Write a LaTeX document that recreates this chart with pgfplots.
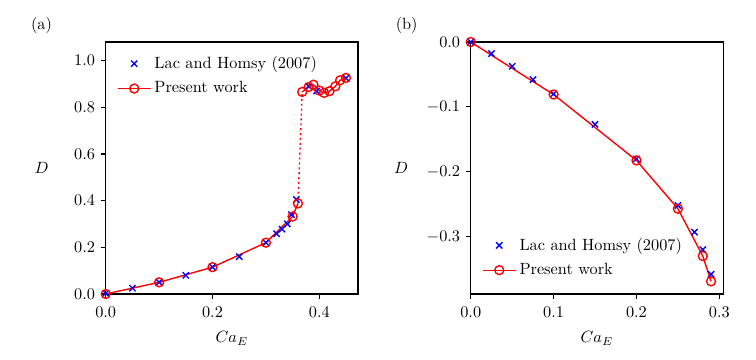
\documentclass[border=0pt]{standalone}
\usepackage{pgfplots}
\pgfplotsset{compat=1.18}
\begin{document}
\begin{tikzpicture}
\useasboundingbox (0pt,0pt) rectangle (463.8pt,220.86pt);
\pgfplotsset{
  every axis/.append style={
    font=\normalsize,
    scale only axis,
    axis line style={line width=0.7pt},
    tick align=outside,
    major tick length=3pt,
    every tick/.style={black, line width=0.7pt},
    xtick pos=bottom, ytick pos=left,
    xticklabel style={yshift=-1.5pt, /pgf/number format/.cd, fixed, fixed zerofill, precision=1},
    yticklabel style={/pgf/number format/.cd, fixed, fixed zerofill, precision=1},
    legend cell align=left,
    legend style={draw=none, fill=none, font=\normalsize, row sep=2.5pt,
      /tikz/every even column/.append style={column sep=4pt}},
    legend image code/.code={\draw[mark repeat=2,mark phase=2,#1] plot coordinates {(0pt,0pt) (10pt,0pt) (20pt,0pt)};},
    every axis x label/.style={at={(axis description cs:0.5,-0.193)}, anchor=base},
  },
  lac/.style={only marks, blue, mark=x, mark size=2.7pt, mark options={line width=0.85pt}},
  pres/.style={red, line width=0.85pt, mark=o, mark size=2.75pt, mark options={line width=0.85pt, solid}},
}
% ---------- (a)
\begin{axis}[
  at={(64.85pt,40.49pt)}, anchor=south west,
  width=154.8pt, height=154.6pt,
  xmin=0, xmax=0.4725, ymin=0, ymax=1.08,
  xtick={0,0.2,0.4}, ytick={0,0.2,0.4,0.6,0.8,1.0},
  xlabel={$Ca_E$}, ylabel={$D$},
  every axis y label/.style={at={(axis description cs:-0.254,0.5)}, anchor=center},
  legend style={at={(0.025,0.97)}, anchor=north west},
]
\addplot[lac] coordinates {
 (0,0.003) (0.05,0.025) (0.1,0.05) (0.15,0.08) (0.2,0.115) (0.25,0.16) (0.3,0.22)
 (0.32,0.258) (0.33,0.278) (0.34,0.30) (0.348,0.34) (0.357,0.405)
 (0.38,0.89) (0.395,0.87) (0.45,0.925)
};
\addlegendentry{Lac and Homsy (2007)}
\addplot[pres] coordinates {
 (0,0.0) (0.1,0.05) (0.2,0.115) (0.3,0.22) (0.35,0.332) (0.36,0.388)
};
\addlegendentry{Present work}
\addplot[red, line width=0.85pt, dash pattern=on 1.2pt off 1.8pt, forget plot] coordinates {
 (0.36,0.388) (0.368,0.866)
};
\addplot[pres, forget plot] coordinates {
 (0.368,0.866) (0.38,0.887) (0.389,0.897) (0.40,0.872) (0.409,0.862) (0.419,0.869)
 (0.43,0.89) (0.439,0.916) (0.45,0.926)
};
\end{axis}
% ---------- (b)
\begin{axis}[
  at={(288.8pt,40.49pt)}, anchor=south west,
  width=154.8pt, height=154.6pt,
  xmin=0, xmax=0.3045, ymin=-0.3885, ymax=0,
  xtick={0,0.1,0.2,0.3}, ytick={-0.3,-0.2,-0.1,0},
  xlabel={$Ca_E$}, ylabel={$D$},
  every axis y label/.style={at={(axis description cs:-0.276,0.5)}, anchor=center},
  legend style={at={(0.025,0.04)}, anchor=south west},
]
\addplot[lac] coordinates {
 (0,0) (0.025,-0.018) (0.05,-0.0375) (0.075,-0.058) (0.1,-0.08) (0.15,-0.127)
 (0.2,-0.18) (0.25,-0.252) (0.27,-0.293) (0.28,-0.32) (0.29,-0.358)
};
\addlegendentry{Lac and Homsy (2007)}
\addplot[pres] coordinates {
 (0,0) (0.1,-0.081) (0.2,-0.1826) (0.25,-0.257) (0.28,-0.33) (0.29,-0.369)
};
\addlegendentry{Present work}
\end{axis}
\node at (25.5pt,205.2pt) {(a)};
\node at (249.5pt,205.2pt) {(b)};
\end{tikzpicture}
\end{document}
